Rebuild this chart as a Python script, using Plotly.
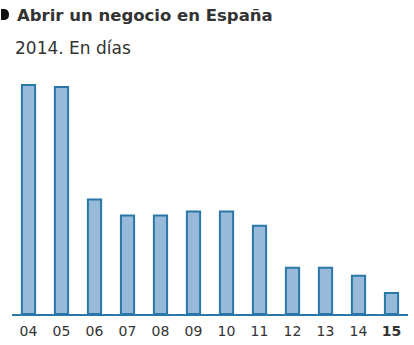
import plotly.graph_objects as go

categories = ["04", "05", "06", "07", "08", "09", "10", "11", "12", "13", "14", "15"]
tick_labels = ["04", "05", "06", "07", "08", "09", "10", "11", "12", "13", "14", "<b>15</b>"]
days = [114, 113, 57, 49, 49, 51, 51, 44, 23, 23, 19, 10.5]

fig = go.Figure(go.Bar(
    x=categories, y=days, width=0.4,
    marker=dict(color="#97bad8", line=dict(color="#2a77a9", width=2)),
))

fig.update_layout(
    width=414, height=345,
    margin=dict(l=12, r=6, t=73, b=31),
    paper_bgcolor="white", plot_bgcolor="white",
    showlegend=False, bargap=0.6,
    font=dict(family="DejaVu Sans, Liberation Sans, sans-serif", color="#333333"),
    xaxis=dict(tickmode="array", tickvals=categories, ticktext=tick_labels,
               showline=True, linecolor="#2a77a9", linewidth=2,
               ticks="outside", ticklen=3, tickcolor="rgba(0,0,0,0)",
               tickfont=dict(size=14, color="#333333"),
               showgrid=False, zeroline=False),
    yaxis=dict(range=[0, 120], visible=False, showgrid=False, zeroline=False),
    annotations=[
        dict(text="<b>Abrir un negocio en España</b>", xref="paper", yref="paper",
             x=0.008, y=1, xanchor="left", yanchor="bottom", yshift=46,
             showarrow=False, font=dict(size=16.5, color="#333333")),
        dict(text="2014. En días", xref="paper", yref="paper",
             x=0.003, y=1, xanchor="left", yanchor="bottom", yshift=13,
             showarrow=False, font=dict(size=17, color="#333333")),
    ],
    shapes=[
        dict(type="path", xref="paper", yref="paper", xsizemode="pixel", ysizemode="pixel",
             xanchor=0, yanchor=1,
             path="M -11,64 L -7,64 Q -3,63 -3,58.5 Q -3,54 -7,53 L -11,53 Z",
             fillcolor="#111111", line=dict(width=0)),
    ],
)

fig.write_html("out.html")
